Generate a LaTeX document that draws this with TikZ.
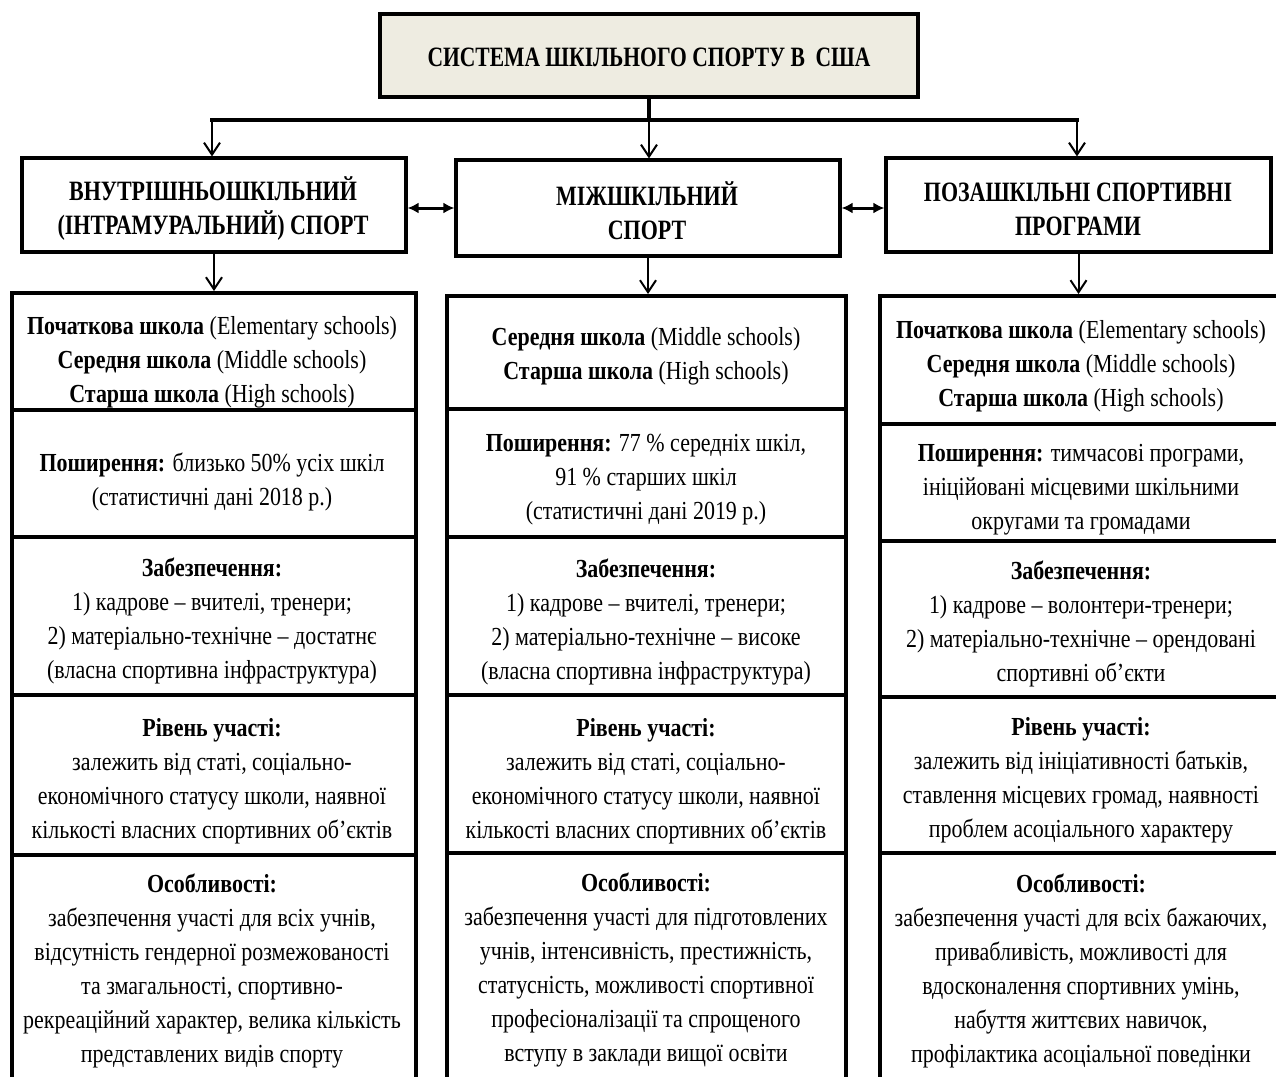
\documentclass[tikz,border=0pt]{standalone}
\usepackage{fontspec}
\setmainfont{Liberation Serif}[FakeStretch=0.845]
\newfontfamily\hdrfont{Liberation Serif}[FakeStretch=0.785]
\newfontfamily\ttlfont{Liberation Serif}[FakeStretch=0.77]
\usetikzlibrary{arrows.meta,fit}
\definecolor{beige}{RGB}{238,236,225}
\begin{document}
\begin{tikzpicture}[x=0.5pt,y=-0.5pt,
  box/.style={draw, line width=1.6pt, inner sep=0pt},
  titlebox/.style={box, fill=beige},
  cell/.style={draw, line width=2pt, inner sep=0pt},
  txt/.style={align=center, inner sep=0pt, yshift=-1pt, font=\fontsize{13}{17}\selectfont},
  htxt/.style={align=center, inner sep=0pt, yshift=-1pt, font=\hdrfont\bfseries\fontsize{14}{17}\selectfont},
  ttxt/.style={align=center, inner sep=0pt, font=\ttlfont\bfseries\fontsize{14}{17}\selectfont},
  arr/.style={-{Straight Barb[length=6pt,width=8pt]}, line width=1pt},
  darr/.style={{Latex[length=5.5pt,width=5.5pt]}-{Latex[length=5.5pt,width=5.5pt]}, line width=1.5pt},
  bus/.style={line width=2pt}]
\useasboundingbox (0,0) rectangle (1276,1077);
\clip (0,0) rectangle (1276,1077);
\fill[white] (0,0) rectangle (1276,1077);

% title
\node[titlebox, fit={(380,14)(918,97)}] (title) {};
\node[ttxt] (titletxt) at (649,57) {СИСТЕМА ШКІЛЬНОГО СПОРТУ В \ США};

% headers
\node[box, fit={(22,158)(406,252)}] (hl) {};
\node[box, fit={(456,160)(840,256)}] (hm) {};
\node[box, fit={(886,158)(1271,252)}] (hr) {};
\node[htxt] (hltxt) at (213,207) {ВНУТРІШНЬОШКІЛЬНИЙ\\(ІНТРАМУРАЛЬНИЙ) СПОРТ};
\node[htxt] (hmtxt) at (647,209) {МІЖШКІЛЬНИЙ\\СПОРТ};
\node[htxt] (hrtxt) at (1078,207) {ПОЗАШКІЛЬНІ СПОРТИВНІ\\ПРОГРАМИ};

% bus
\coordinate (busL) at (212,120);
\coordinate (busM) at (649,120);
\coordinate (busR) at (1077,120);
\draw[bus] (title.south) -- (busM);
\draw[bus, line cap=rect] (busL) -- (busR);
\draw[arr] (busL) -- (busL |- hl.north);
\draw[arr] (busM) -- (busM |- hm.north);
\draw[arr] (busR) -- (busR |- hr.north);
\draw[darr] (hl.east |- hm.west) -- (hm.west);
\draw[darr] (hm.east) -- (hm.east -| hr.west);

% left column
\node[cell, fit={(12,293)(416,410)}] (l1) {};
\node[cell, fit={(12,410)(416,537)}] (l2) {};
\node[cell, fit={(12,537)(416,695)}] (l3) {};
\node[cell, fit={(12,695)(416,855)}] (l4) {};
\node[cell, fit={(12,855)(416,1110)}] (l5) {};
% middle column
\node[cell, fit={(447,296)(846,409)}] (m1) {};
\node[cell, fit={(447,409)(846,537)}] (m2) {};
\node[cell, fit={(447,537)(846,695)}] (m3) {};
\node[cell, fit={(447,695)(846,853)}] (m4) {};
\node[cell, fit={(447,853)(846,1110)}] (m5) {};
% right column
\node[cell, fit={(880,296)(1300,424)}] (r1) {};
\node[cell, fit={(880,424)(1300,541)}] (r2) {};
\node[cell, fit={(880,541)(1300,697)}] (r3) {};
\node[cell, fit={(880,697)(1300,853)}] (r4) {};
\node[cell, fit={(880,853)(1300,1110)}] (r5) {};

\draw[arr] (hl.south) -- (hl.south |- l1.north);
\draw[arr] (hm.south) -- (hm.south |- m1.north);
\draw[arr] (hr.south) -- (hr.south |- r1.north);

% left texts
\node[txt] (tl1) at (212,360.5) {\textbf{Початкова школа} (Elementary schools)\\\textbf{Середня школа} (Middle schools)\\\textbf{Старша школа} (High schools)};
\node[txt] (tl2) at (212,480) {\textbf{Поширення:} близько 50\% усіх шкіл\\(статистичні дані 2018 р.)};
\node[txt] (tl3) at (212,619) {\textbf{Забезпечення:}\\1) кадрове – вчителі, тренери;\\2) матеріально-технічне – достатнє\\(власна спортивна інфраструктура)};
\node[txt] (tl4) at (212,779) {\textbf{Рівень участі:}\\залежить від статі, соціально-\\економічного статусу школи, наявної\\кількості власних спортивних об’єктів};
\node[txt] (tl5) at (212,969) {\textbf{Особливості:}\\забезпечення участі для всіх учнів,\\відсутність гендерної розмежованості\\та змагальності, спортивно-\\рекреаційний характер, велика кількість\\представлених видів спорту};

% middle texts
\node[txt] (tm1) at (646,354.5) {\textbf{Середня школа} (Middle schools)\\\textbf{Старша школа} (High schools)};
\node[txt] (tm2) at (646,478) {\textbf{Поширення:} 77 \% середніх шкіл,\\91 \% старших шкіл\\(статистичні дані 2019 р.)};
\node[txt] (tm3) at (646,619.5) {\textbf{Забезпечення:}\\1) кадрове – вчителі, тренери;\\2) матеріально-технічне – високе\\(власна спортивна інфраструктура)};
\node[txt] (tm4) at (646,779) {\textbf{Рівень участі:}\\залежить від статі, соціально-\\економічного статусу школи, наявної\\кількості власних спортивних об’єктів};
\node[txt] (tm5) at (646,967.5) {\textbf{Особливості:}\\забезпечення участі для підготовлених\\учнів, інтенсивність, престижність,\\статусність, можливості спортивної\\професіоналізації та спрощеного\\вступу в заклади вищої освіти};

% right texts
\node[txt] (tr1) at (1081,364) {\textbf{Початкова школа} (Elementary schools)\\\textbf{Середня школа} (Middle schools)\\\textbf{Старша школа} (High schools)};
\node[txt] (tr2) at (1081,488) {\textbf{Поширення:} тимчасові програми,\\ініційовані місцевими шкільними\\округами та громадами};
\node[txt] (tr3) at (1081,622) {\textbf{Забезпечення:}\\1) кадрове – волонтери-тренери;\\2) матеріально-технічне – орендовані\\спортивні об’єкти};
\node[txt] (tr4) at (1081,778.5) {\textbf{Рівень участі:}\\залежить від ініціативності батьків,\\ставлення місцевих громад, наявності\\проблем асоціального характеру};
\node[txt] (tr5) at (1081,969) {\textbf{Особливості:}\\забезпечення участі для всіх бажаючих,\\привабливість, можливості для\\вдосконалення спортивних умінь,\\набуття життєвих навичок,\\профілактика асоціальної поведінки};
\end{tikzpicture}
\end{document}
